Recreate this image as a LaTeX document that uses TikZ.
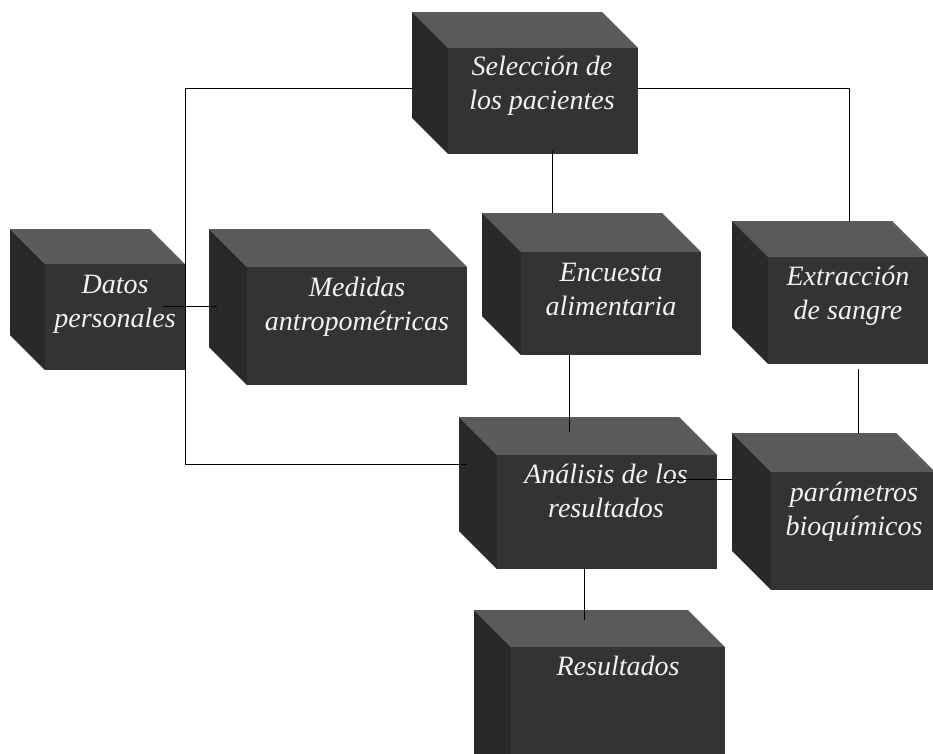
\documentclass[tikz,border=0pt]{standalone}
\usepackage{fontspec}
\setmainfont{Liberation Serif}
\definecolor{topc}{HTML}{5A5A5A}
\definecolor{frontc}{HTML}{333333}
\definecolor{leftc}{HTML}{292929}
\definecolor{txtc}{HTML}{F2F2F2}
% #1 x0 (back left), #2 y0 (back top), #3 x1 (front right), #4 y1 (front bottom), #5 depth, #6 name
\newcommand\boxcube[6]{%
  \fill[topc] (#1,#2) -- (#3-#5,#2) -- (#3,#2+#5) -- (#1+#5,#2+#5) -- cycle;
  \fill[leftc] (#1,#2) -- (#1+#5,#2+#5) -- (#1+#5,#4) -- (#1,#4-#5) -- cycle;
  \fill[frontc] (#1+#5,#2+#5) rectangle (#3,#4);
}
\begin{document}
\begin{tikzpicture}[x=1pt,y=-1pt,
  lbl/.style={text=txtc,font=\fontsize{28}{34}\selectfont\itshape,align=center,inner sep=0pt,text depth=7pt},
  conn/.style={draw=black,line width=0.9pt}]
\useasboundingbox (0,0) rectangle (933,753);
\clip (0,0) rectangle (933,753);
\fill[white] (0,0) rectangle (933,753);
% cubes
\boxcube{412}{12}{638}{154}{36}{sel}
\boxcube{10}{229}{185}{370}{35}{dat}
\boxcube{209}{229}{467}{385}{38}{med}
\boxcube{482}{213}{701}{355}{39}{enc}
\boxcube{732}{221}{928}{364}{36}{ext}
\boxcube{459}{417}{717}{569}{38}{ana}
\boxcube{732}{433}{935}{590}{39}{par}
\boxcube{474}{610}{725}{800}{37}{res}
% labels
\node[lbl] (sel) at (542,86.5) {Selección de\\los pacientes};
\node[lbl] (dat) at (115,304.5) {Datos\\personales};
\node[lbl] (med) at (357,307) {Medidas\\antropométricas};
\node[lbl] (enc) at (611,293) {Encuesta\\alimentaria};
\node[lbl] (ext) at (848,296) {Extracción\\de sangre};
\node[lbl] (ana) at (606,494.5) {Análisis de los\\resultados};
\node[lbl] (par) at (854,512.5) {parámetros\\bioquímicos};
\node[lbl,anchor=base,text depth=0pt] (res) at (618,675) {Resultados};
% connector points
\coordinate (selL) at (412,88);
\coordinate (selR) at (638,88);
\coordinate (selB) at (552,151);
\coordinate (k1) at (185,88);
\coordinate (k2) at (185,464);
\coordinate (k3) at (849,88);
\coordinate (anaL) at (467,464);
\coordinate (extT) at (849,221);
\coordinate (encT) at (552,213);
\coordinate (datR) at (163,306);
\coordinate (medL) at (217,306);
\coordinate (encB) at (569,355);
\coordinate (anaT) at (569,432);
\coordinate (extB) at (858,369);
\coordinate (parT) at (858,433);
\coordinate (anaR) at (663,479);
\coordinate (parL) at (733,479);
\coordinate (anaB) at (584,569);
\coordinate (resT) at (584,620);
% connectors
\draw[conn] (selL) -- (k1) -- (k2) -- (anaL);
\draw[conn] (selR) -- (k3) -- (extT);
\draw[conn] (selB) -- (encT);
\draw[conn] (datR) -- (medL);
\draw[conn] (encB) -- (anaT);
\draw[conn] (extB) -- (parT);
\draw[conn] (anaR) -- (parL);
\draw[conn] (anaB) -- (resT);
\end{tikzpicture}
\end{document}
